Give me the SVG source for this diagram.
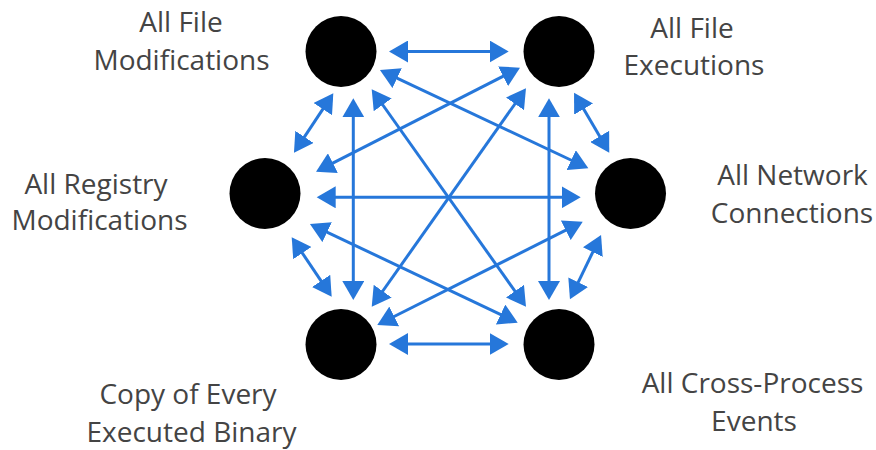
<svg xmlns="http://www.w3.org/2000/svg" width="876" height="450" viewBox="0 0 876 450">
  <style>
    .node { fill: #000; }
    .label { font-family: "Open Sans", "Liberation Sans", sans-serif; font-size: 28px; fill: #444; text-anchor: middle; }
    .edge { stroke: #2677da; stroke-width: 3; fill: none; marker-start: url(#head); marker-end: url(#head); }
  </style>
  <defs>
    <marker id="head" markerUnits="userSpaceOnUse" viewBox="0 0 20 22" markerWidth="20" markerHeight="22" refX="9" refY="11" orient="auto-start-reverse">
      <path d="M0,0 L19,11 L0,22 z" fill="#2677da"/>
    </marker>
  </defs>
  <rect width="876" height="450" fill="#fff"/>

  <!-- every pair of sources is linked both ways -->
  <g id="connectors">
    <line class="edge" x1="399" y1="51.5" x2="498.7" y2="51.5"/>
    <line class="edge" x1="399" y1="344" x2="498.7" y2="344"/>
    <line class="edge" x1="326.7" y1="197.3" x2="570.7" y2="197.3"/>
    <line class="edge" x1="353.3" y1="108.3" x2="353.3" y2="290"/>
    <line class="edge" x1="549" y1="108.3" x2="549" y2="290"/>
    <line class="edge" x1="327.8" y1="101.6" x2="299.5" y2="144.4"/>
    <line class="edge" x1="579.1" y1="101.3" x2="604.2" y2="144.1"/>
    <line class="edge" x1="297.3" y1="245.6" x2="326.1" y2="288.4"/>
    <line class="edge" x1="596.7" y1="244" x2="574.3" y2="290.3"/>
    <line class="edge" x1="389" y1="74.3" x2="579.3" y2="164"/>
    <line class="edge" x1="511.1" y1="72.2" x2="324.9" y2="167.2"/>
    <line class="edge" x1="319" y1="228.3" x2="508.7" y2="318.4"/>
    <line class="edge" x1="573.8" y1="226.2" x2="386.2" y2="320.5"/>
    <line class="edge" x1="377.5" y1="97.5" x2="520.2" y2="298.5"/>
    <line class="edge" x1="520.2" y1="96.5" x2="377.5" y2="298.5"/>
  </g>

  <g id="file-modifications">
    <circle class="node" cx="341" cy="51.5" r="35.5"/>
    <text class="label" x="181" y="32">All File</text>
    <text class="label" x="181.5" y="70">Modifications</text>
  </g>
  <g id="file-executions">
    <circle class="node" cx="559" cy="51.5" r="35.5"/>
    <text class="label" x="692" y="37.5">All File</text>
    <text class="label" x="694" y="75">Executions</text>
  </g>
  <g id="registry-modifications">
    <circle class="node" cx="265" cy="193.5" r="35.5"/>
    <text class="label" x="96" y="194">All Registry</text>
    <text class="label" x="99.5" y="230">Modifications</text>
  </g>
  <g id="network-connections">
    <circle class="node" cx="630.5" cy="193.5" r="35.5"/>
    <text class="label" x="792.5" y="185">All Network</text>
    <text class="label" x="792" y="222.5">Connections</text>
  </g>
  <g id="executed-binary">
    <circle class="node" cx="341" cy="344.5" r="35.5"/>
    <text class="label" x="188" y="404">Copy of Every</text>
    <text class="label" x="191.5" y="441.5">Executed Binary</text>
  </g>
  <g id="cross-process-events">
    <circle class="node" cx="559" cy="344.5" r="35.5"/>
    <text class="label" x="752.5" y="393">All Cross-Process</text>
    <text class="label" x="754" y="431">Events</text>
  </g>
</svg>
